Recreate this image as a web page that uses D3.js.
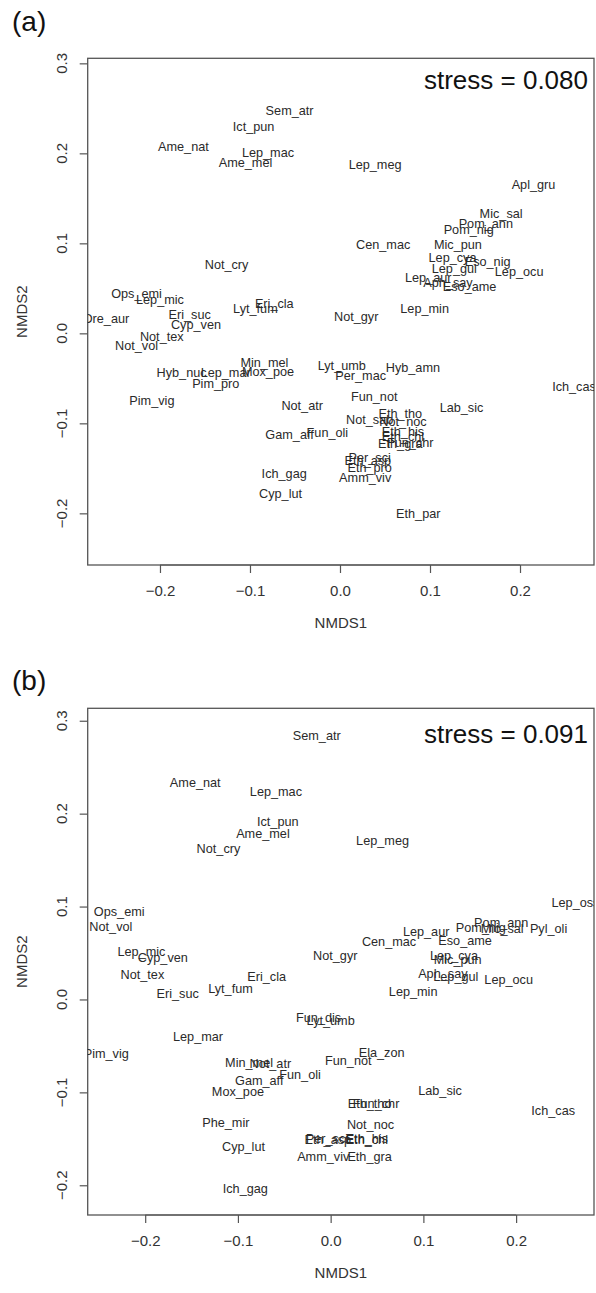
<!DOCTYPE html>
<html>
<head>
<meta charset="utf-8">
<script src="https://cdn.jsdelivr.net/npm/d3@7"></script>
<style>
  html, body { margin: 0; padding: 0; background: #ffffff; }
  svg { display: block; font-family: "Liberation Sans", Arial, sans-serif; }
</style>
</head>
<body>
<svg id="chart" width="596" height="1293"></svg>
<script>
// ---------- Panel (a) data ----------
const speciesA = ["Sem_atr","Ict_pun","Ame_nat","Lep_mac","Ame_mel","Lep_meg","Apl_gru","Mic_sal","Pom_ann","Pom_nig",
  "Cen_mac","Mic_pun","Not_cry","Lep_cya","Eso_nig","Lep_gul","Lep_ocu","Lep_aur","Aph_say","Eso_ame",
  "Ops_emi","Lep_mic","Eri_cla","Lyt_fum","Lep_min","Ore_aur","Eri_suc","Not_gyr","Cyp_ven","Not_tex",
  "Not_vol","Min_mel","Lyt_umb","Hyb_amn","Mox_poe","Hyb_nuc","Lep_mar","Per_mac","Pim_pro","Ich_cas",
  "Fun_not","Pim_vig","Not_atr","Lab_sic","Eth_tho","Not_sab","Not_noc","Eth_his","Fun_oli","Gam_aff",
  "Eth_chl","Eth_gra","Fun_chr","Per_sci","Eth_asp","Eth_pro","Ich_gag","Amm_viv","Cyp_lut","Eth_par"];
const nmds1A = [-0.056,-0.096,-0.174,-0.080,-0.105,0.039,0.215,0.179,0.162,0.143,
  0.048,0.131,-0.126,0.125,0.164,0.127,0.199,0.098,0.120,0.144,
  -0.226,-0.200,-0.073,-0.094,0.094,-0.260,-0.167,0.018,-0.160,-0.198,
  -0.226,-0.084,0.002,0.081,-0.080,-0.176,-0.127,0.023,-0.138,0.260,
  0.038,-0.209,-0.042,0.135,0.067,0.033,0.070,0.070,-0.014,-0.056,
  0.070,0.067,0.078,0.033,0.031,0.033,-0.062,0.028,-0.066,0.087];
const nmds2A = [0.248,0.230,0.207,0.201,0.190,0.188,0.165,0.133,0.122,0.115,
  0.099,0.099,0.076,0.084,0.080,0.072,0.069,0.062,0.056,0.052,
  0.044,0.038,0.033,0.028,0.028,0.016,0.021,0.019,0.010,-0.004,
  -0.014,-0.033,-0.036,-0.038,-0.042,-0.044,-0.044,-0.047,-0.056,-0.059,
  -0.070,-0.075,-0.080,-0.082,-0.089,-0.096,-0.098,-0.109,-0.110,-0.113,
  -0.115,-0.123,-0.121,-0.138,-0.141,-0.149,-0.156,-0.160,-0.178,-0.200];

// ---------- Panel (b) data ----------
const speciesB = ["Sem_atr","Ame_nat","Lep_mac","Ict_pun","Ame_mel","Lep_meg","Not_cry","Lep_oss","Ops_emi","Pom_ann",
  "Pom_nig","Mic_sal","Pyl_oli","Not_vol","Lep_aur","Cen_mac","Eso_ame","Lep_mic","Not_gyr","Lep_cya",
  "Cyp_ven","Mic_pun","Aph_say","Not_tex","Eri_cla","Lep_gul","Lep_ocu","Lyt_fum","Lep_min","Eri_suc",
  "Fun_dis","Lyt_umb","Lep_mar","Ela_zon","Pim_vig","Fun_not","Min_mel","Not_atr","Fun_oli","Gam_aff",
  "Lab_sic","Mox_poe","Eth_tho","Fun_chr","Ich_cas","Phe_mir","Not_noc","Per_sci","Eth_asp","Eth_his",
  "Eth_chl","Cyp_lut","Amm_viv","Eth_gra","Ich_gag"];
const nmds1B = [-0.015,-0.146,-0.059,-0.057,-0.073,0.056,-0.121,0.264,-0.228,0.184,
  0.162,0.185,0.235,-0.237,0.103,0.063,0.145,-0.204,0.005,0.133,
  -0.181,0.137,0.121,-0.203,-0.069,0.135,0.192,-0.108,0.089,-0.165,
  -0.013,0.000,-0.143,0.055,-0.242,0.019,-0.088,-0.065,-0.033,-0.077,
  0.118,-0.100,0.042,0.049,0.240,-0.113,0.043,-0.004,-0.003,0.039,
  0.039,-0.094,-0.008,0.042,-0.092];
const nmds2B = [0.284,0.234,0.224,0.191,0.179,0.171,0.162,0.104,0.095,0.083,
  0.077,0.076,0.076,0.078,0.073,0.062,0.063,0.052,0.047,0.047,
  0.045,0.043,0.028,0.027,0.025,0.025,0.021,0.012,0.008,0.006,
  -0.019,-0.023,-0.040,-0.057,-0.058,-0.066,-0.068,-0.069,-0.081,-0.087,
  -0.098,-0.099,-0.112,-0.112,-0.120,-0.132,-0.135,-0.150,-0.151,-0.150,
  -0.151,-0.158,-0.169,-0.169,-0.204];

// ---------- Tick labels / annotations ----------
const xTicks = [-0.2, -0.1, 0.0, 0.1, 0.2];
const yTicks = [-0.2, -0.1, 0.0, 0.1, 0.2, 0.3];
const panelLetters = ["(a)", "(b)"];
const stressLabels = ["stress = 0.080", "stress = 0.091"];
const xTitle = "NMDS1";
const yTitle = "NMDS2";

const svg = d3.select("#chart");

const panels = [
  { id: "a", letter: panelLetters[0], stress: stressLabels[0], sp: speciesA, xs: nmds1A, ys: nmds2A,
    xDom: [-0.2803, 0.2822], yDom: [-0.2574, 0.3056],
    left: 87.7, right: 594, top: 58.3, bottom: 565,
    letterY: 31, stressY: 89 },
  { id: "b", letter: panelLetters[1], stress: stressLabels[1], sp: speciesB, xs: nmds1B, ys: nmds2B,
    xDom: [-0.262, 0.284], yDom: [-0.232, 0.3134],
    left: 87.7, right: 594, top: 708.3, bottom: 1215,
    letterY: 690, stressY: 742.5 }
];

panels.forEach(p => {
  const x = d3.scaleLinear().domain(p.xDom).range([p.left, p.right]);
  const y = d3.scaleLinear().domain(p.yDom).range([p.bottom, p.top]);
  const g = svg.append("g");

  // panel letter
  g.append("text").attr("x", 12).attr("y", p.letterY)
    .attr("font-size", 28).attr("fill", "#111").text(p.letter);

  // clip for labels
  const clipId = "clip-" + p.id;
  svg.append("clipPath").attr("id", clipId).append("rect")
    .attr("x", p.left).attr("y", p.top)
    .attr("width", p.right - p.left).attr("height", p.bottom - p.top);

  // axes
  const xAxis = d3.axisBottom(x).tickValues(xTicks).tickSize(8).tickPadding(12)
    .tickFormat(d3.format(".1f"));
  const gx = g.append("g").attr("transform", `translate(0,${p.bottom})`).call(xAxis);
  gx.select(".domain").remove();
  gx.append("line").attr("x1", x(xTicks[0])).attr("x2", x(xTicks[xTicks.length - 1]))
    .attr("stroke", "#555").attr("stroke-width", 1.2);
  gx.selectAll(".tick line").attr("stroke", "#555").attr("stroke-width", 1.2);
  gx.selectAll(".tick text").attr("font-size", 15).attr("fill", "#333")
    .attr("font-family", "Liberation Sans, Arial, sans-serif");

  const yAxis = d3.axisLeft(y).tickValues(yTicks).tickSize(8).tickFormat(d3.format(".1f"));
  const gy = g.append("g").attr("transform", `translate(${p.left},0)`).call(yAxis);
  gy.select(".domain").remove();
  gy.selectAll(".tick line").attr("stroke", "#555").attr("stroke-width", 1.2);
  gy.selectAll(".tick text").remove();
  yTicks.forEach(t => {
    g.append("text")
      .attr("transform", `translate(61.7,${y(t)}) rotate(-90)`)
      .attr("text-anchor", "middle").attr("dy", "0.35em")
      .attr("font-size", 15).attr("fill", "#333")
      .text(d3.format(".1f")(t));
  });

  // box
  g.append("rect").attr("x", p.left).attr("y", p.top)
    .attr("width", p.right - p.left).attr("height", p.bottom - p.top)
    .attr("fill", "none").attr("stroke", "#555").attr("stroke-width", 1.3);

  // axis titles
  g.append("text").attr("x", (p.left + p.right) / 2).attr("y", p.bottom + 58)
    .attr("text-anchor", "middle").attr("dy", "0.35em")
    .attr("font-size", 15).attr("fill", "#333").text(xTitle);
  g.append("text")
    .attr("transform", `translate(22,${(p.top + p.bottom) / 2}) rotate(-90)`)
    .attr("text-anchor", "middle").attr("dy", "0.35em")
    .attr("font-size", 15).attr("fill", "#333").text(yTitle);

  // stress annotation
  g.append("text").attr("x", p.right - 6).attr("y", p.stressY)
    .attr("text-anchor", "end").attr("font-size", 26).attr("fill", "#111")
    .text(p.stress);

  // species labels
  const data = p.sp.map((s, i) => ({ s, x: p.xs[i], y: p.ys[i] }));
  g.append("g").attr("clip-path", `url(#${clipId})`)
    .selectAll("text").data(data).join("text")
    .attr("x", d => x(d.x)).attr("y", d => y(d.y))
    .attr("text-anchor", "middle").attr("dy", "0.35em")
    .attr("font-size", 12.7).attr("fill", "#2a2a2a")
    .text(d => d.s);
});
</script>
</body>
</html>
